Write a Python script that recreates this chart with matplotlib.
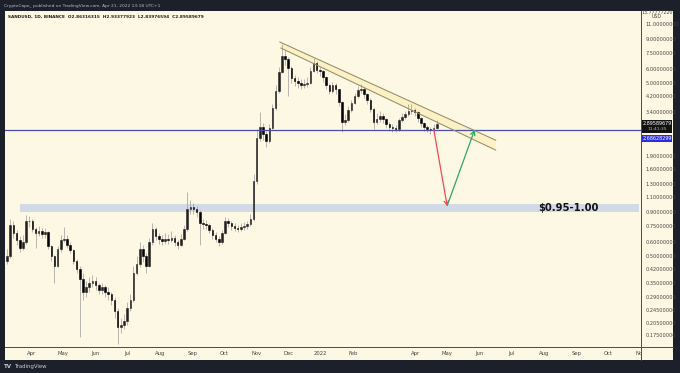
import matplotlib
matplotlib.use("Agg")
import matplotlib.pyplot as plt
import matplotlib.dates as mdates
from matplotlib.patches import Rectangle, FancyArrowPatch
import numpy as np
import pandas as pd

# ---------------- data (3-day candles) ----------------
first_open = 0.47
closes = [0.50, 0.76, 0.68, 0.62, 0.56, 0.60, 0.80, 0.80, 0.72, 0.68,
          0.70, 0.67, 0.69, 0.57, 0.50, 0.44, 0.55, 0.62, 0.63, 0.58,
          0.54, 0.47, 0.42, 0.37, 0.31, 0.33, 0.35, 0.36, 0.34, 0.32,
          0.33, 0.31, 0.30, 0.28, 0.24, 0.195, 0.20, 0.21, 0.25, 0.28,
          0.40, 0.45, 0.55, 0.50, 0.44, 0.60, 0.72, 0.65, 0.63, 0.61,
          0.63, 0.62, 0.64, 0.60, 0.58, 0.63, 0.72, 0.93, 0.96, 0.94,
          0.90, 0.78, 0.77, 0.76, 0.71, 0.66, 0.63, 0.60, 0.68, 0.80,
          0.78, 0.75, 0.73, 0.72, 0.74, 0.75, 0.77, 0.82, 1.35, 2.40,
          2.80, 2.55, 2.30, 2.75, 3.60, 4.50, 5.80, 7.20, 6.90, 6.10,
          5.35, 5.15, 5.00, 4.90, 4.95, 5.00, 5.90, 6.50, 5.95, 5.85,
          5.40, 4.90, 4.50, 4.85, 4.60, 3.90, 3.00, 3.05, 3.50, 3.85,
          4.20, 4.55, 4.65, 4.30, 4.00, 3.55, 3.00, 3.10, 3.25, 3.10,
          2.90, 2.80, 2.75, 2.70, 3.05, 3.20, 3.30, 3.45, 3.50, 3.40,
          3.15, 2.95, 2.78, 2.72, 2.68, 2.75, 2.90]
highs = [0.55, 0.82, 0.80, 0.71, 0.65, 0.66, 0.86, 0.85, 0.82, 0.74,
         0.75, 0.73, 0.73, 0.70, 0.58, 0.51, 0.57, 0.66, 0.74, 0.66,
         0.60, 0.55, 0.48, 0.44, 0.40, 0.36, 0.38, 0.39, 0.38, 0.35,
         0.35, 0.34, 0.33, 0.31, 0.29, 0.25, 0.22, 0.23, 0.27, 0.30,
         0.44, 0.50, 0.60, 0.58, 0.52, 0.64, 0.78, 0.74, 0.68, 0.66,
         0.68, 0.67, 0.70, 0.66, 0.62, 0.67, 0.76, 1.17, 1.05, 1.02,
         0.98, 0.92, 0.82, 0.81, 0.78, 0.73, 0.69, 0.65, 0.71, 0.84,
         0.83, 0.80, 0.78, 0.76, 0.78, 0.79, 0.80, 0.88, 1.50, 2.70,
         3.40, 2.95, 2.65, 2.90, 3.80, 4.90, 6.20, 8.40, 7.80, 7.10,
         6.30, 5.60, 5.40, 5.30, 5.30, 5.40, 6.20, 7.00, 6.70, 6.20,
         5.95, 5.50, 4.95, 5.10, 5.00, 4.65, 3.95, 3.30, 3.70, 4.00,
         4.40, 4.80, 4.95, 4.75, 4.40, 4.10, 3.60, 3.35, 3.45, 3.35,
         3.15, 3.00, 2.90, 2.85, 3.15, 3.35, 3.45, 3.80, 3.80, 3.60,
         3.45, 3.20, 3.00, 2.85, 2.80, 2.90, 3.05]
lows = [0.45, 0.49, 0.64, 0.58, 0.53, 0.54, 0.59, 0.74, 0.69, 0.56,
        0.65, 0.64, 0.64, 0.55, 0.47, 0.35, 0.43, 0.53, 0.60, 0.56,
        0.52, 0.45, 0.40, 0.17, 0.28, 0.29, 0.31, 0.33, 0.32, 0.30,
        0.30, 0.29, 0.28, 0.26, 0.22, 0.155, 0.18, 0.19, 0.20, 0.24,
        0.27, 0.39, 0.43, 0.46, 0.40, 0.43, 0.58, 0.62, 0.59, 0.58,
        0.59, 0.59, 0.60, 0.57, 0.55, 0.57, 0.62, 0.70, 0.88, 0.88,
        0.84, 0.58, 0.72, 0.72, 0.68, 0.63, 0.60, 0.57, 0.59, 0.67,
        0.74, 0.71, 0.70, 0.69, 0.70, 0.71, 0.72, 0.75, 0.80, 1.30,
        2.30, 2.35, 2.15, 2.25, 2.70, 3.50, 4.40, 5.70, 6.40, 4.20,
        5.00, 4.80, 4.70, 4.60, 4.70, 4.75, 4.95, 5.80, 5.70, 5.50,
        5.10, 4.60, 4.30, 4.40, 4.35, 3.70, 2.60, 2.85, 3.00, 3.40,
        3.80, 4.10, 4.40, 4.10, 3.80, 3.40, 2.70, 2.90, 3.00, 2.95,
        2.75, 2.65, 2.62, 2.60, 2.65, 3.00, 3.10, 3.25, 3.30, 3.25,
        3.00, 2.80, 2.65, 2.60, 2.55, 2.60, 2.70]
last_date = "2022-04-21"

support_level = 2.68628299
last_close = 2.89589679
zone_low, zone_high = 0.90, 1.00
zone_start = "2021-03-21"
zone_label = "$0.95-1.00"

chan_upper = (("2021-11-23", 8.65), ("2022-06-16", 2.34))
chan_lower = (("2021-11-24", 7.98), ("2022-06-16", 2.05))
red_arrow = (("2022-04-18", 2.74), ("2022-05-01", 0.97))
green_arrow = (("2022-05-01", 0.98), ("2022-05-27", 2.686))

price_ticks = [11.0, 9.0, 7.5, 6.0, 5.0, 4.2, 3.4, 1.9, 1.6, 1.3, 1.1, 0.9,
               0.75, 0.6, 0.5, 0.42, 0.35, 0.29, 0.245, 0.205, 0.175]
month_ticks = ["2021-04-01", "2021-05-01", "2021-06-01", "2021-07-01", "2021-08-01",
               "2021-09-01", "2021-10-01", "2021-11-01", "2021-12-01", "2022-01-01",
               "2022-02-01", "2022-04-01", "2022-05-01", "2022-06-01", "2022-07-01",
               "2022-08-01", "2022-09-01", "2022-10-01", "2022-11-01"]
month_labels = ["Apr", "May", "Jun", "Jul", "Aug", "Sep", "Oct", "Nov", "Dec", "2022",
                "Feb", "Apr", "May", "Jun", "Jul", "Aug", "Sep", "Oct", "Nov"]

title_txt = "CryptoCapo_ published on TradingView.com, Apr 21, 2022 13:18 UTC+1"
legend_txt = "SANDUSD, 1D, BINANCE  O2.86316315  H2.93377923  L2.83976594  C2.89589679"

# ---------------- figure ----------------
W, H = 680, 373
DARK = "#1c202b"
CREAM = "#fdf8e3"
fig = plt.figure(figsize=(W / 100, H / 100), dpi=100, facecolor=DARK)


def fx(x):
    return x / W


def fy(y):
    return 1 - y / H


# cream panel
fig.patches.append(Rectangle((fx(5), fy(360)), fx(673) - fx(5), fy(11) - fy(360),
                             transform=fig.transFigure, facecolor=CREAM,
                             edgecolor="none", zorder=-5))

L, R, T, B = 5, 641, 11, 347
ax = fig.add_axes([fx(L), fy(B), fx(R) - fx(L), fy(T) - fy(B)])
ax.set_zorder(1)
ax.set_facecolor(CREAM)
for s in ax.spines.values():
    s.set_visible(False)
ax.set_yscale("log")

dates = pd.date_range(end=last_date, periods=len(closes), freq="3D")
dn = mdates.date2num(dates)
opens = [first_open] + closes[:-1]

# wicks
ax.vlines(dn, lows, highs, color="#9a9a9a", linewidth=0.5, zorder=3)
# bodies
o = np.array(opens)
c = np.array(closes)
bottoms = np.minimum(o, c)
heights = np.abs(c - o)
cols = ["#222222" if cc >= oo else "#000000" for oo, cc in zip(o, c)]
ax.bar(dn, heights, bottom=bottoms, width=1.5, color=cols, edgecolor=cols,
       linewidth=0.4, zorder=4)

d2n = lambda s: mdates.date2num(pd.Timestamp(s))
xmin = d2n("2021-03-07")
xmax = d2n("2022-10-30") + 0.4
ax.set_xlim(xmin, xmax)
ax.set_ylim(0.149, 13.07)

# support zone
ax.add_patch(Rectangle((d2n(zone_start), zone_low), xmax - d2n(zone_start),
                       zone_high - zone_low, facecolor="#d2d9e7", edgecolor="none",
                       zorder=1))
ax.text(d2n("2022-08-24"), 0.95, zone_label, fontsize=7.2, fontweight="bold",
        color="#111111", ha="center", va="center", zorder=6)

# horizontal line
ax.axhline(support_level, color="#4a4bb0", linewidth=0.9, zorder=5)

# channel
ux = [d2n(chan_upper[0][0]), d2n(chan_upper[1][0])]
uy = [chan_upper[0][1], chan_upper[1][1]]
lx = [d2n(chan_lower[0][0]), d2n(chan_lower[1][0])]
ly = [chan_lower[0][1], chan_lower[1][1]]
ax.fill([ux[0], ux[1], lx[1], lx[0]], [uy[0], uy[1], ly[1], ly[0]],
        facecolor="#fcefc0", edgecolor="none", alpha=0.85, zorder=2)
ax.plot(ux, uy, color="#958d68", linewidth=0.75, zorder=5)
ax.plot(lx, ly, color="#958d68", linewidth=0.75, zorder=5)

# arrows
for (p0, p1), colr in ((red_arrow, "#ee4b57"), (green_arrow, "#2fa56c")):
    arr = FancyArrowPatch((d2n(p0[0]), p0[1]), (d2n(p1[0]), p1[1]),
                          arrowstyle="->,head_length=3,head_width=1.6",
                          color=colr, linewidth=0.9, zorder=6,
                          shrinkA=0, shrinkB=0)
    ax.add_patch(arr)

# axes ticks
ax.yaxis.tick_right()
ax.set_yticks(price_ticks)
ax.set_yticklabels(["%.8f" % v for v in price_ticks])
ax.yaxis.set_minor_locator(matplotlib.ticker.NullLocator())
ax.tick_params(axis="y", length=0, pad=3.2, labelsize=3.6, labelcolor="#444444")
ax.set_xticks([d2n(m) for m in month_ticks])
ax.set_xticklabels(month_labels)
ax.tick_params(axis="x", length=0, pad=3.0, labelsize=3.8, labelcolor="#444444")

# axis separator lines
fig.lines.append(plt.Line2D([fx(R), fx(R)], [fy(11), fy(360)], transform=fig.transFigure,
                            color="#4a4a4a", linewidth=0.7, zorder=10))
fig.lines.append(plt.Line2D([fx(5), fx(673)], [fy(B), fy(B)], transform=fig.transFigure,
                            color="#4a4a4a", linewidth=0.7, zorder=10))
# hide part of the cut-off Nov label under the price scale
fig.patches.append(Rectangle((fx(R + 0.6), fy(359.5)), fx(673) - fx(R + 0.6),
                             fy(B + 0.6) - fy(359.5), transform=fig.transFigure,
                             facecolor=CREAM, edgecolor="none", zorder=9))

# price scale labels
fig.text(fx(657), fy(12.5), "13.77777220", fontsize=3.4, color="#444444",
         ha="center", va="center")
fig.text(fx(657), fy(17), "USD", fontsize=3.4, color="#444444", ha="center", va="center")

fig.patches.append(Rectangle((fx(642), fy(133)), fx(672) - fx(642), fy(120) - fy(133),
                             transform=fig.transFigure, facecolor="#111111",
                             edgecolor="none", zorder=11))
fig.text(fx(657), fy(123.5), "%.8f" % last_close, fontsize=3.5, color="white",
         ha="center", va="center", zorder=12)
fig.text(fx(657), fy(129.5), "11:41:35", fontsize=3.2, color="#bbbbbb",
         ha="center", va="center", zorder=12)
fig.patches.append(Rectangle((fx(642), fy(142)), fx(672) - fx(642), fy(134.5) - fy(142),
                             transform=fig.transFigure, facecolor="#2b2be6",
                             edgecolor="none", zorder=11))
fig.text(fx(657), fy(138.3), "%.8f" % support_level, fontsize=3.5, color="white",
         ha="center", va="center", zorder=12)

# header and footer texts
fig.text(fx(4), fy(5.5), title_txt, fontsize=3.2, color="#b8bcc6", ha="left", va="center")
fig.text(fx(8), fy(17), legend_txt, fontsize=3.1, color="#1a1a1a", ha="left", va="center",
         fontweight="semibold", zorder=12)
fig.text(fx(4), fy(366.5), "TV", fontsize=4.0, fontweight="bold", color="#c8cbd3",
         ha="left", va="center")
fig.text(fx(14), fy(366.5), "TradingView", fontsize=3.9, color="#c8cbd3",
         ha="left", va="center")

fig.savefig("out.png", dpi=100, facecolor=DARK)
